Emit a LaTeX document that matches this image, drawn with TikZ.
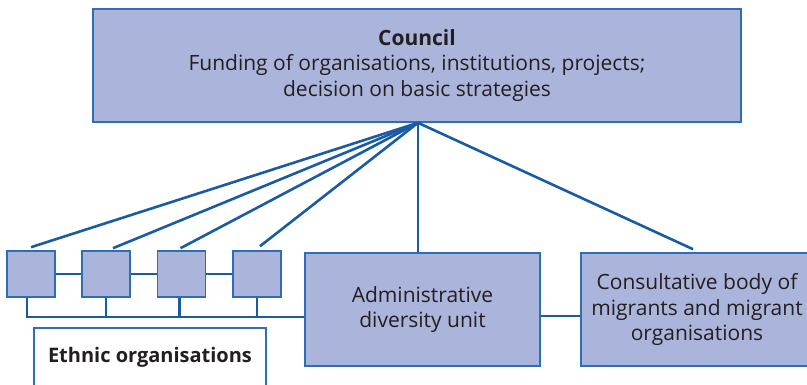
\documentclass[tikz,border=0pt]{standalone}
\usepackage{fontspec}
\setmainfont{Open Sans}
\usetikzlibrary{calc}
\usetikzlibrary{positioning}

\definecolor{boxfill}{RGB}{171,181,219}
\definecolor{boxline}{RGB}{47,110,181}
\definecolor{linkline}{RGB}{26,91,166}
\definecolor{txt}{RGB}{35,31,32}

\tikzset{
    unitbox/.style={draw=boxline, line width=1.6pt, fill=boxfill, text=txt,
        align=center, inner sep=0pt, font=\fontsize{21}{25.5}\selectfont},
    memberbox/.style={unitbox, minimum width=48pt, minimum height=46pt},
    link/.style={draw=linkline, line width=2.6pt}
}

\begin{document}
\begin{tikzpicture}[x=1pt,y=1pt]
        % Fix the size of the page
        \useasboundingbox (0,0) rectangle (807,384);

        % Draw the big boxes
        \node[unitbox, minimum width=648pt, minimum height=113pt] (council) at (417,318.5)
            {\textbf{Council}\\Funding of organisations, institutions, projects;\\decision on basic strategies};
        \node[unitbox, minimum width=235pt, minimum height=113pt] (admin) at (422.5,74.5)
            {Administrative\\diversity unit};
        \node[unitbox, minimum width=232pt, minimum height=113pt] (cons) at (697,74.5)
            {Consultative body of\\migrants and migrant\\organisations};
        \node[unitbox, fill=white, minimum width=232pt, minimum height=58pt,
            font=\fontsize{20}{24}\selectfont] (ethnic) at (150,27)
            {\textbf{Ethnic organisations}};

        % Draw the ethnic organisation boxes
        \node[memberbox] (org1) at (31,110) {};
        \node[memberbox] (org2) at (106,110) {};
        \node[memberbox] (org3) at (181.5,110) {};
        \node[memberbox] (org4) at (257,110) {};

        % Lines from the council
        \coordinate (top) at ([xshift=1pt]council.south);
        \draw[link] (top) -- ([yshift=3pt]org1.north);
        \draw[link] (top) -- ([xshift=7pt,yshift=2pt]org2.north);
        \draw[link] (top) -- ([xshift=-1pt,yshift=2pt]org3.north);
        \draw[link] (top) -- ([xshift=3pt,yshift=4pt]org4.north);
        \draw[link] (top) -- (top |- admin.north);
        \draw[link] (top) -- ([xshift=-4pt,yshift=3pt]cons.north);

        % Links between the boxes
        \draw[link] (org1) -- (org2);
        \draw[link] (org2) -- (org3);
        \draw[link] (org3) -- (org4);

        % Bus under the boxes
        \coordinate (bus) at ($(admin.west)+(0,-7.5)$);
        \draw[link] ([xshift=-4pt]org1.south) |- (bus);
        \draw[link] (org2.south) -- (org2.south |- bus);
        \draw[link] ([xshift=-2pt]org3.south) -- ([xshift=-2pt]org3.south |- bus);
        \draw[link] (org4.south) -- (org4.south |- bus);
        \draw[link] ($(admin.east)+(0,-6.5)$) -- ($(cons.west)+(0,-6.5)$);

    \end{tikzpicture}
\end{document}
